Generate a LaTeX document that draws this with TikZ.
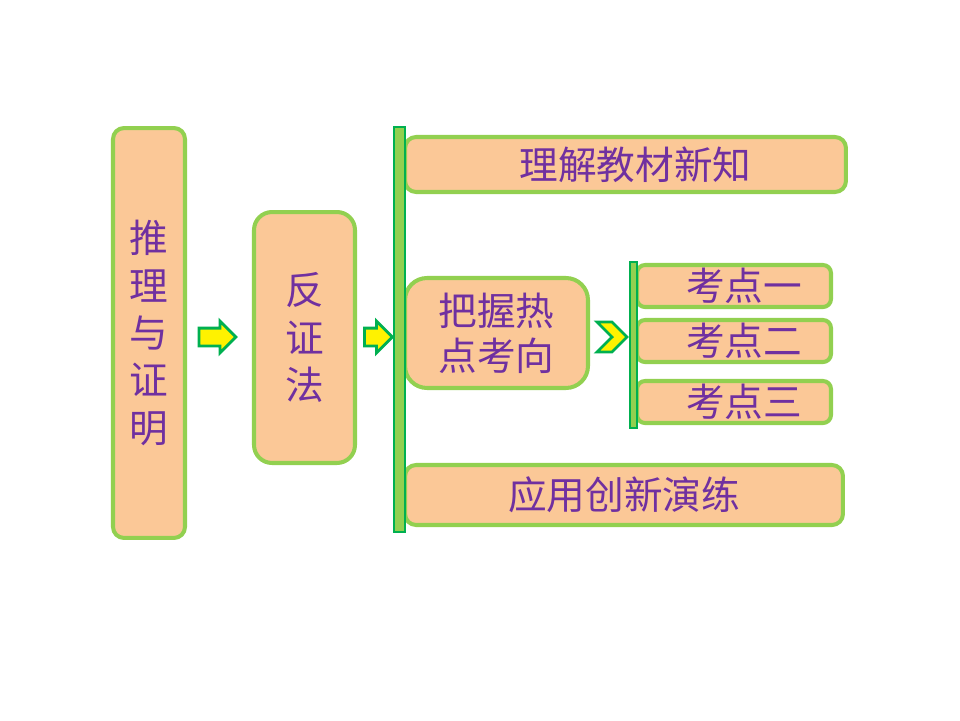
\documentclass[tikz,border=0pt]{standalone}
\usepackage{fontspec}
\setmainfont{Noto Sans CJK SC}
\usetikzlibrary{shapes.arrows,shapes.symbols}
\definecolor{boxfill}{HTML}{FBC897}
\definecolor{boxline}{HTML}{92D050}
\definecolor{darkgreen}{HTML}{00B050}
\definecolor{txtpurple}{HTML}{7030A0}
\begin{document}
\begin{tikzpicture}[
        x=0.02cm, y=-0.02cm,
        block/.style={
            draw=boxline,
            fill=boxfill,
            line width=2.3pt,
            rounded corners=0.22cm,
            align=center,
            text=txtpurple,
            inner sep=0pt,
            font=\fontsize{22}{27}\selectfont
        },
        bar/.style={
            draw=darkgreen,
            fill=boxline,
            line width=1.1pt,
            inner sep=0pt
        },
        blockarrow/.style={
            single arrow,
            draw=darkgreen,
            fill=yellow,
            line width=1.6pt,
            inner xsep=0pt,
            inner ysep=0.15cm,
            minimum width=0pt,
            minimum height=0.74cm,
            single arrow head extend=0.14cm,
            single arrow head indent=0pt
        },
        chevron/.style={
            signal,
            signal from=west,
            signal to=east,
            draw=darkgreen,
            fill=yellow,
            line width=1.6pt,
            inner sep=0pt,
            minimum width=0.6cm,
            minimum height=0.6cm
        }
    ]
    \useasboundingbox (0,0) rectangle (960,720);

    % =========================
    % Left column
    % =========================
    \node[block, minimum width=1.44cm, minimum height=8.2cm] (tuili) at (149,333)
        {推\\理\\与\\证\\明};
    \node[blockarrow] (arr1) at (213,337) {};

    \node[block, rounded corners=0.36cm, minimum width=2.02cm, minimum height=5.02cm]
        (fanzheng) at (304.5,337.5) {反\\证\\法};
    \node[blockarrow, minimum height=0.56cm] (arr2) at (374,337) {};

    % =========================
    % Right branch
    % =========================
    \node[block, minimum width=8.82cm, minimum height=1.1cm] (lijie) at (625.5,164.5)
        {\hspace*{0.4cm}理解教材新知};
    \node[block, rounded corners=0.44cm, minimum width=3.66cm, minimum height=2.2cm,
        font=\fontsize{22}{25.5}\selectfont] (bawo) at (496.5,333) {把握热\\点考向};
    \node[block, minimum width=8.76cm, minimum height=1.2cm] (yingyong) at (624,495)
        {应用创新演练};

    \node[bar, minimum width=0.22cm, minimum height=8.1cm] (mainbar) at (399.5,329.5) {};

    % =========================
    % Key points
    % =========================
    \node[chevron] (chev) at (612,337) {};

    \node[block, rounded corners=0.16cm, minimum width=3.88cm, minimum height=0.84cm]
        (kao1) at (734,286) {\hspace*{0.4cm}考点一};
    \node[block, rounded corners=0.16cm, minimum width=3.88cm, minimum height=0.84cm]
        (kao2) at (734,341) {\hspace*{0.4cm}考点二};
    \node[block, rounded corners=0.16cm, minimum width=3.88cm, minimum height=0.84cm]
        (kao3) at (734,402) {\hspace*{0.4cm}考点三};

    \node[bar, minimum width=0.14cm, minimum height=3.32cm] (subbar) at (633.5,345) {};

    \end{tikzpicture}
\end{document}
